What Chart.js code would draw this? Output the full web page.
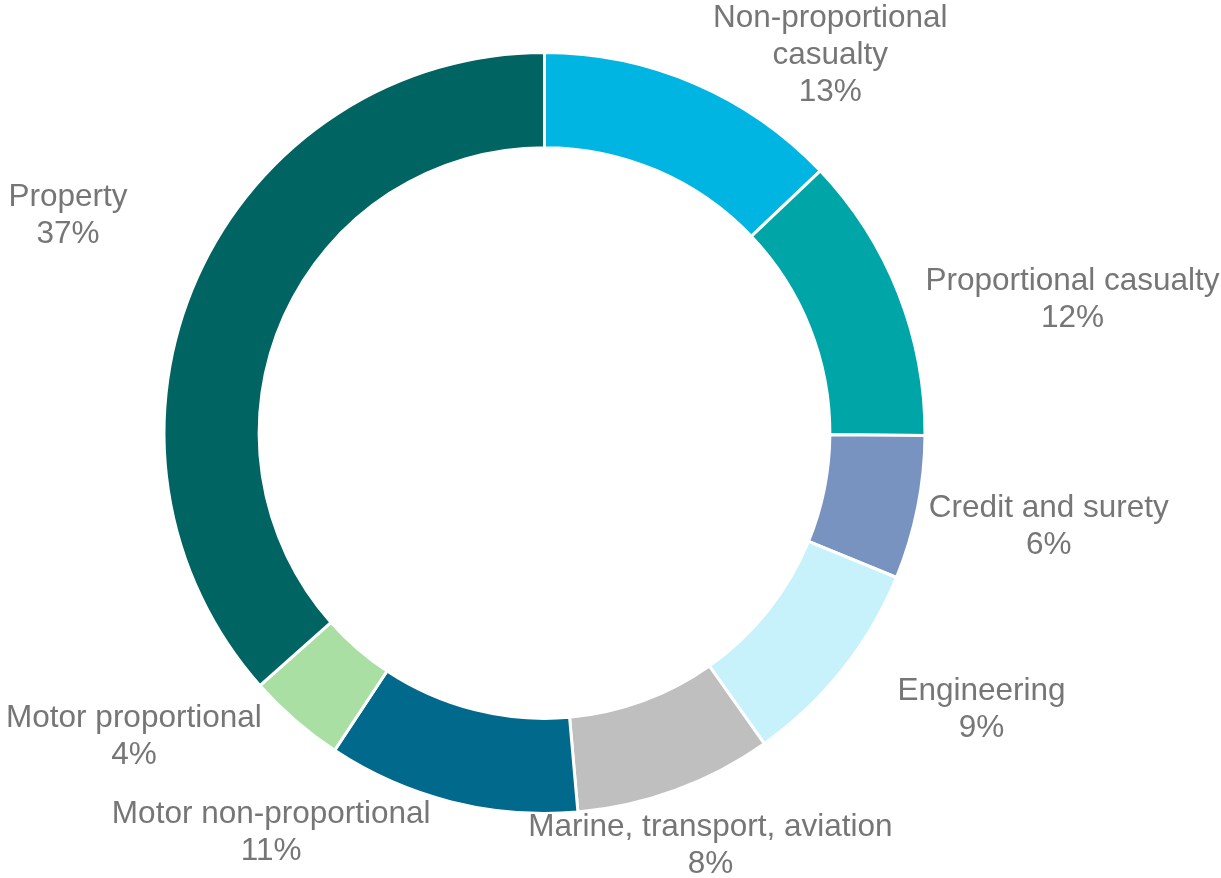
<!DOCTYPE html>
<html lang="en">
<head>
    <meta charset="UTF-8">
    <title>Portfolio split by line of business</title>
    <script src="https://cdn.jsdelivr.net/npm/chart.js"></script>
    <style>
        html, body { margin: 0; padding: 0; background: #ffffff; }
        #wrap { width: 1221px; height: 878px; }
    </style>
</head>
<body>
    <div id="wrap">
        <canvas id="donut" width="1221" height="878"></canvas>
    </div>

    <script>
        // Data (clockwise from 12 o'clock), shares in %
        const categories = [
            ['Non-proportional', 'casualty'],
            ['Proportional casualty'],
            ['Credit and surety'],
            ['Engineering'],
            ['Marine, transport, aviation'],
            ['Motor non-proportional'],
            ['Motor proportional'],
            ['Property']
        ];
        const shares = [12.9, 12.2, 6.1, 9.0, 8.4, 10.7, 4.15, 36.55];
        const sliceColors = ['#00B5E2', '#00A5A8', '#7993C1', '#C7F2FC', '#BFBFBF', '#00698C', '#AADFA4', '#006462'];

        // label placement: shift from the point just outside each slice's mid-angle
        const labelNudge = [[120, 9], [137, 22], [92, 11], [108, 15], [21, 18], [-170, -8], [-135, -14], [-93, -45]];

        const outsideLabels = {
            id: 'outsideLabels',
            afterDatasetsDraw(chart, args, opts) {
                const ctx = chart.ctx;
                const meta = chart.getDatasetMeta(0);
                const data = chart.data.datasets[0].data;
                ctx.save();
                ctx.font = opts.font;
                ctx.fillStyle = opts.color;
                ctx.textAlign = 'center';
                ctx.textBaseline = 'middle';
                meta.data.forEach((arc, i) => {
                    const p = arc.getProps(['x', 'y', 'startAngle', 'endAngle', 'outerRadius'], true);
                    const mid = (p.startAngle + p.endAngle) / 2;
                    const r = p.outerRadius + opts.gap;
                    const cx = p.x + Math.cos(mid) * r + labelNudge[i][0];
                    const cy = p.y + Math.sin(mid) * r + labelNudge[i][1];
                    const lines = categories[i].concat([Math.round(data[i]) + '%']);
                    lines.forEach((t, k) => {
                        ctx.fillText(t, cx, cy + (k - (lines.length - 1) / 2) * opts.lineHeight);
                    });
                });
                ctx.restore();
            }
        };

        new Chart(document.getElementById('donut').getContext('2d'), {
            type: 'doughnut',
            data: {
                labels: categories.map(c => c.join(' ')),
                datasets: [{
                    data: shares,
                    backgroundColor: sliceColors,
                    borderColor: '#ffffff',
                    borderWidth: 3
                }]
            },
            options: {
                responsive: false,
                animation: false,
                cutout: '75%',
                layout: {
                    padding: { left: 162.5, right: 294.5, top: 51, bottom: 63 }
                },
                plugins: {
                    legend: { display: false },
                    tooltip: { enabled: false },
                    outsideLabels: {
                        font: '31.5px "Liberation Sans", Arial, sans-serif',
                        color: '#767676',
                        gap: 40,
                        lineHeight: 37
                    }
                }
            },
            plugins: [outsideLabels]
        });
    </script>
</body>
</html>
